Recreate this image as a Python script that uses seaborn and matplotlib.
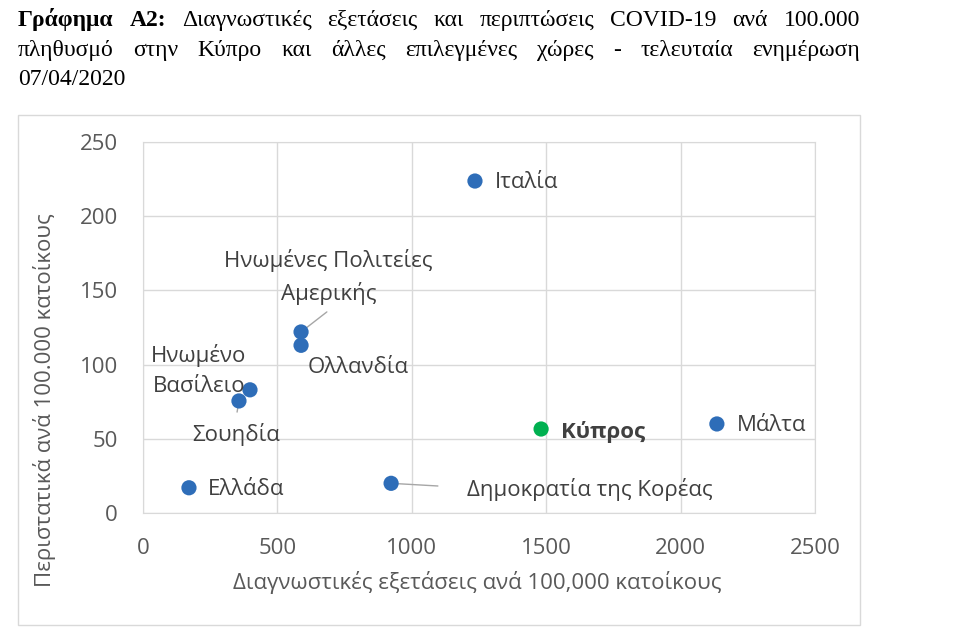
import pandas as pd
import matplotlib.pyplot as plt
import seaborn as sns
from matplotlib.patches import Rectangle

# data
countries = ['Ιταλία', 'Ηνωμένες Πολιτείες\nΑμερικής', 'Ολλανδία', 'Ηνωμένο\nΒασίλειο',
             'Σουηδία', 'Ελλάδα', 'Δημοκρατία της Κορέας', 'Κύπρος', 'Μάλτα']
tests = [1235, 588, 588, 398, 357, 171, 923, 1481, 2135]
cases = [223.7, 122, 113, 83, 75.5, 17, 20, 56.6, 60]
group = ['other'] * 7 + ['cyprus', 'other']

x_ticks = [0, 500, 1000, 1500, 2000, 2500]
y_ticks = [0, 50, 100, 150, 200, 250]

# label placement (data coords): x, y, ha
label_pos = {
    'Ιταλία': (1310, 223, 'left'),
    'Ηνωμένες Πολιτείες\nΑμερικής': (690, 159, 'center'),
    'Ολλανδία': (612, 98, 'left'),
    'Ηνωμένο\nΒασίλειο': (208, 96, 'center'),
    'Σουηδία': (347, 53, 'center'),
    'Ελλάδα': (242, 16, 'left'),
    'Δημοκρατία της Κορέας': (1205, 16, 'left'),
    'Κύπρος': (1555, 54.5, 'left'),
    'Μάλτα': (2210, 59, 'left'),
}
# leader lines: country -> end point
leaders = {
    'Ηνωμένες Πολιτείες\nΑμερικής': (684, 135.5),
    'Δημοκρατία της Κορέας': (1097, 18.2),
    'Σουηδία': (350, 68),
}

df = pd.DataFrame({'country': countries, 'tests': tests, 'cases': cases, 'group': group})

sns.set_style('white')
plt.rcParams['font.family'] = ['Open Sans', 'DejaVu Sans']

W, H = 980, 638
fig = plt.figure(figsize=(W / 100, H / 100), dpi=100)

# outer chart border
fig.patches.append(Rectangle((18 / W, 1 - 625 / H), 842 / W, 510 / H, transform=fig.transFigure,
                             fill=False, edgecolor='#d9d9d9', linewidth=1))

ax = fig.add_axes([143 / W, 1 - 513 / H, 672 / W, 371 / H])
sns.scatterplot(data=df, x='tests', y='cases', hue='group',
                palette={'other': '#2E6DB8', 'cyprus': '#00B050'},
                s=120, edgecolor='none', legend=False, ax=ax, zorder=3)

ax.set_xlim(0, 2500)
ax.set_ylim(0, 250)
ax.set_xticks(x_ticks)
ax.set_yticks(y_ticks)
ax.grid(True, color='#d9d9d9', linewidth=1)
ax.set_axisbelow(True)
for sp in ax.spines.values():
    sp.set_color('#d9d9d9')
ax.tick_params(length=0, labelsize=16, labelcolor='#595959', pad=18)
ax.set_xlabel('Διαγνωστικές εξετάσεις ανά 100,000 κατοίκους', fontsize=16, color='#595959')
ax.set_ylabel('Περιστατικά ανά 100.000 κατοίκους', fontsize=16, color='#595959')
ax.xaxis.set_label_coords((477 - 143) / 672, -(582 - 513) / 371)
ax.xaxis.label.set_va('center')
ax.yaxis.set_label_coords((45 - 143) / 672, (513 - 400) / 371)
ax.yaxis.label.set_va('center')

for name, x, y in zip(countries, tests, cases):
    lx, ly, ha = label_pos[name]
    ax.text(lx, ly, name, ha=ha, va='center', fontsize=16, color='#404040',
            fontweight='bold' if name == 'Κύπρος' else 'normal', linespacing=1.55, zorder=4)
    if name in leaders:
        ax.annotate('', xy=(x, y), xytext=leaders[name],
                    arrowprops=dict(arrowstyle='-', color='#a6a6a6', lw=1, shrinkA=0, shrinkB=0),
                    zorder=2)

# justified serif title
title_lines = [
    [('Γράφημα', 'bold'), ('Α2:', 'bold'), ('Διαγνωστικές', 'normal'), ('εξετάσεις', 'normal'),
     ('και', 'normal'), ('περιπτώσεις', 'normal'), ('COVID-19', 'normal'), ('ανά', 'normal'),
     ('100.000', 'normal')],
    [('πληθυσμό', 'normal'), ('στην', 'normal'), ('Κύπρο', 'normal'), ('και', 'normal'),
     ('άλλες', 'normal'), ('επιλεγμένες', 'normal'), ('χώρες', 'normal'), ('-', 'normal'),
     ('τελευταία', 'normal'), ('ενημέρωση', 'normal')],
    [('07/04/2020', 'normal')],
]
baselines = [26, 56, 85]
left_px, right_px = 18, 860
renderer = fig.canvas.get_renderer()
for words, base in zip(title_lines, baselines):
    texts = [fig.text(0, 1 - base / H, w, fontsize=17, fontweight=wt, family='Liberation Serif',
                      color='black', va='baseline', ha='left') for w, wt in words]
    widths = [t.get_window_extent(renderer).width for t in texts]
    gap = (right_px - left_px - sum(widths)) / (len(texts) - 1) if len(texts) > 1 else 0
    xpos = left_px
    for t, wd in zip(texts, widths):
        t.set_x(xpos / W)
        xpos += wd + gap

fig.savefig('out.png', dpi=100)
